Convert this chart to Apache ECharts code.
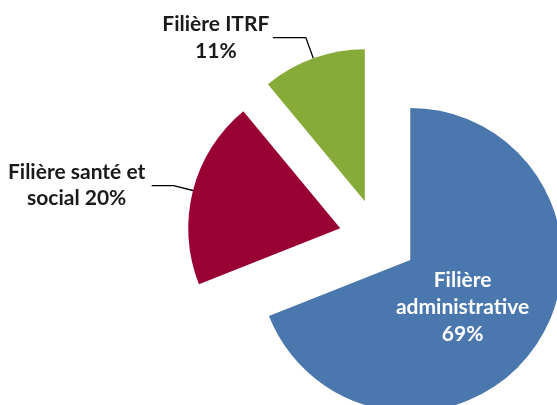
<!DOCTYPE html>
<html>
<head>
<meta charset="utf-8">
<script src="https://cdn.jsdelivr.net/npm/echarts@6/dist/echarts.min.js"></script>
<style>
  html, body { margin: 0; padding: 0; background: #fff; }
  #chart { width: 557px; height: 405px; }
</style>
</head>
<body>
<div id="chart"></div>
<script>
// parts of the staff by "filière"
const categories = ['Filière administrative', 'Filière santé et social', 'Filière ITRF'];
const values = [69, 20, 11];
const colors = ['#4a77ae', '#990033', '#86ab38'];
// how each label is broken over lines (Excel style)
const labelLines = [
  ['Filière', 'administrative'],
  ['Filière santé et', 'social'],
  ['Filière ITRF', '']
];

const font = 'Lato, "Open Sans", sans-serif';

function makeLabel(i) {
  const pct = values[i] + '%';
  const l = labelLines[i];
  if (i === 0) {
    return l[0] + '\n' + l[1] + '\n' + pct;
  }
  if (i === 1) {
    return '{t|' + l[0] + '}\n{t|' + l[1] + ' ' + pct + '}';
  }
  return '{g|' + l[0] + '}\n{g|' + pct + '}';
}

const data = categories.map((name, i) => {
  const item = {
    name: name,
    value: values[i],
    selected: true,
    itemStyle: { color: colors[i] }
  };
  if (i === 0) {
    item.label = {
      position: 'inside',
      color: '#fff',
      padding: [6, 26, 0, 0]
    };
  } else if (i === 1) {
    item.labelLine = { length: 20, length2: 22 };
  } else {
    item.labelLine = { length: 22, length2: 33 };
  }
  return item;
});

const chart = echarts.init(document.getElementById('chart'));
chart.setOption({
  animation: false,
  series: [{
    type: 'pie',
    center: [378, 238],
    radius: 152,
    startAngle: 90,
    clockwise: true,
    selectedMode: 'multiple',
    selectedOffset: 39,
    avoidLabelOverlap: false,
    emphasis: { disabled: true },
    itemStyle: { borderWidth: 0 },
    label: {
      show: true,
      position: 'outside',
      fontFamily: font,
      fontWeight: 'bold',
      fontSize: 21,
      lineHeight: 27,
      color: '#1a1a1a',
      formatter: p => makeLabel(p.dataIndex),
      rich: {
        t: { width: 140, align: 'center', fontFamily: font, fontWeight: 'bold', fontSize: 21, lineHeight: 26, color: '#1a1a1a' },
        g: { width: 104, align: 'center', fontFamily: font, fontWeight: 'bold', fontSize: 21, lineHeight: 27, color: '#1a1a1a' }
      }
    },
    labelLine: {
      show: true,
      lineStyle: { color: '#000', width: 1.3 }
    },
    data: data
  }]
});
</script>
</body>
</html>
